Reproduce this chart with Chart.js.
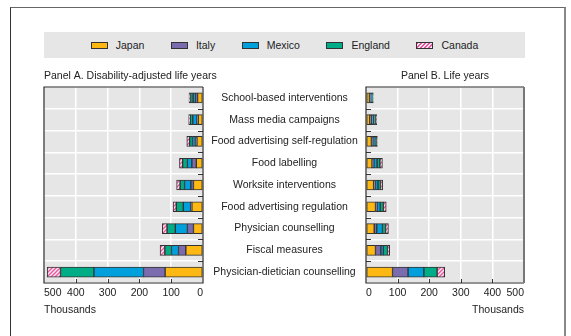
<!DOCTYPE html>
<html>
<head>
<meta charset="utf-8">
<script src="https://cdn.jsdelivr.net/npm/chart.js@4.4.0/dist/chart.umd.min.js"></script>
<style>
  html, body { margin: 0; padding: 0; background: #fff; }
  #page { position: relative; width: 571px; height: 336px; overflow: hidden;
          font-family: "Liberation Sans", Arial, sans-serif; }
  #frame { position: absolute; left: 10px; top: 7px; width: 553px; height: 360px;
           border-left: 1.5px solid #333; border-top: 1px solid #666; border-right: 2px solid #888; }
  #legend { position: absolute; left: 44px; top: 32px; width: 481px; height: 26px;
            background: #e6e6e7; display: flex; justify-content: center; align-items: center;
            gap: 26.5px; font-size: 10.5px; color: #222; }
  .item { display: flex; align-items: center; }
  .sw { width: 15px; height: 5px; border: 1px solid #333; margin-right: 8px; }
  canvas { position: absolute; }
</style>
</head>
<body>
<div id="page">
  <div id="frame"></div>
  <div id="legend"></div>
  <canvas id="panelA" width="366" height="276" style="left:0;top:60px;width:366px;height:276px"></canvas>
  <canvas id="panelB" width="271" height="276" style="left:300px;top:60px;width:271px;height:276px"></canvas>
</div>
<script>
// Interventions, top to bottom
const categories = [
  'School-based interventions',
  'Mass media campaigns',
  'Food advertising self-regulation',
  'Food labelling',
  'Worksite interventions',
  'Food advertising regulation',
  'Physician counselling',
  'Fiscal measures',
  'Physician-dietician counselling'
];
const countries = ['Japan', 'Italy', 'Mexico', 'England', 'Canada'];

// Panel A: disability-adjusted life years averted (thousands)
const dalyJapan   = [17, 15, 19, 21, 30, 35, 30, 54, 119];
const dalyItaly   = [ 7,  4,  5, 14,  8,  4, 19, 23,  68];
const dalyMexico  = [ 7, 13,  9, 14, 20, 23, 38, 22, 156];
const dalyEngland = [ 8,  8,  9, 15, 14, 22, 26, 21, 105];
const dalyCanada  = [ 5,  5,  9, 10, 11, 10, 15, 15,  42];

// Panel B: life years gained (thousands)
const lifeJapan   = [11, 12, 17, 19, 24, 30, 26, 30, 84];
const lifeItaly   = [ 5,  6,  5,  6,  6,  5,  8, 17, 49];
const lifeMexico  = [ 3,  6,  7, 10,  8, 10, 18,  8, 50];
const lifeEngland = [ 3,  6,  5,  9,  8, 10, 10, 13, 42];
const lifeCanada  = [ 1,  4,  2,  8,  7,  9,  9,  7, 24];

const axisTicks = [0, 100, 200, 300, 400, 500];
const unitLabel = 'Thousands';

const FONT = { family: '"Liberation Sans", Arial, sans-serif', size: 10.5 };
const TEXT = '#222';
const colors = ['#fdb813', '#7b6cb0', '#00a0dc', '#00ad87', null];

function hatchPattern() {
  const c = document.createElement('canvas');
  c.width = 4; c.height = 4;
  const g = c.getContext('2d');
  g.fillStyle = '#fbe6f0';
  g.fillRect(0, 0, 4, 4);
  g.strokeStyle = '#e8579f';
  g.lineWidth = 1.3;
  g.beginPath();
  g.moveTo(0, 4); g.lineTo(4, 0);
  g.moveTo(-1, 1); g.lineTo(1, -1);
  g.moveTo(3, 5); g.lineTo(5, 3);
  g.stroke();
  return g.createPattern(c, 'repeat');
}
colors[4] = hatchPattern();

// HTML legend
const legend = document.getElementById('legend');
countries.forEach((name, i) => {
  const item = document.createElement('div');
  item.className = 'item';
  const sw = document.createElement('span');
  sw.className = 'sw';
  sw.style.background = i === 4
    ? 'repeating-linear-gradient(135deg, #e8579f 0 1.2px, #fbe6f0 1.2px 2.8px)'
    : colors[i];
  const t = document.createElement('span');
  t.textContent = name;
  item.appendChild(sw); item.appendChild(t);
  legend.appendChild(item);
});

function makeDatasets(series) {
  return series.map((data, i) => ({
    label: countries[i],
    data: data,
    backgroundColor: colors[i],
    borderColor: '#333',
    borderWidth: 1,
    borderSkipped: false,
    barThickness: 10
  }));
}

// Grey plot panel, outline, inward tick marks and (for the reversed panel) the unit label
const panelFrame = {
  id: 'panelFrame',
  beforeDraw(chart) {
    const { ctx, chartArea: a } = chart;
    ctx.save();
    ctx.fillStyle = '#e6e6e7';
    ctx.fillRect(a.left, a.top, a.right - a.left, a.bottom - a.top);
    ctx.restore();
  },
  afterDraw(chart, args, opts) {
    const { ctx, chartArea: a, scales } = chart;
    const xs = scales.x, ys = scales.y;
    ctx.save();
    ctx.strokeStyle = '#333';
    ctx.lineWidth = 1;
    // inward ticks on value axis
    ctx.beginPath();
    xs.ticks.forEach(t => {
      if (t.value === xs.min || t.value === xs.max) return;
      const x = Math.round(xs.getPixelForValue(t.value)) + 0.5;
      ctx.moveTo(x, a.bottom); ctx.lineTo(x, a.bottom - 4);
    });
    // inward ticks between categories
    const edge = opts.side === 'right' ? a.right : a.left;
    const dir = opts.side === 'right' ? -1 : 1;
    for (let i = 1; i < categories.length; i++) {
      const y = Math.round((ys.getPixelForValue(i - 1) + ys.getPixelForValue(i)) / 2) + 0.5;
      ctx.moveTo(edge, y); ctx.lineTo(edge + dir * 5, y);
    }
    ctx.stroke();
    // outline
    ctx.lineWidth = 1.2;
    ctx.strokeStyle = '#2a2a2a';
    ctx.beginPath();
    ctx.moveTo(a.right, a.top); ctx.lineTo(a.left, a.top);
    ctx.lineTo(a.left, a.bottom); ctx.lineTo(a.right, a.bottom);
    if (opts.side === 'right') ctx.lineTo(a.right, a.top);
    ctx.stroke();
    if (opts.side !== 'right') {
      ctx.strokeStyle = '#777';
      ctx.lineWidth = 2;
      ctx.beginPath();
      ctx.moveTo(a.right, a.top); ctx.lineTo(a.right, a.bottom);
      ctx.stroke();
    }
    if (opts.unit) {
      ctx.fillStyle = TEXT;
      ctx.font = FONT.size + 'px ' + FONT.family;
      ctx.textAlign = 'left';
      ctx.textBaseline = 'middle';
      ctx.fillText(opts.unit, a.left, xs.bottom - FONT.size * 1.2 / 2);
    }
    ctx.restore();
  }
};

// width of the widest category label, to centre labels between panels
const meas = document.createElement('canvas').getContext('2d');
meas.font = FONT.size + 'px ' + FONT.family;
const widest = Math.max(...categories.map(c => meas.measureText(c).width));
const LABEL_BAND = 163;

function valueAxis(reverse, showTitle) {
  return {
    stacked: true,
    reverse: reverse,
    min: axisTicks[0],
    max: axisTicks[axisTicks.length - 1],
    afterBuildTicks(s) { s.ticks = axisTicks.map(v => ({ value: v })); },
    ticks: { color: TEXT, font: FONT, padding: 4, align: 'inner', maxRotation: 0 },
    grid: { color: '#ffffff', lineWidth: 1.5, drawTicks: false },
    border: { display: false },
    title: { display: showTitle, text: unitLabel, align: 'end', color: TEXT, font: FONT, padding: 0 },
    afterFit(s) { s.height = 33; }
  };
}

new Chart(document.getElementById('panelA'), {
  type: 'bar',
  data: {
    labels: categories,
    datasets: makeDatasets([dalyJapan, dalyItaly, dalyMexico, dalyEngland, dalyCanada])
  },
  options: {
    indexAxis: 'y',
    responsive: false,
    animation: false,
    layout: { padding: { left: 44, right: 0, top: 0, bottom: 20 } },
    plugins: {
      legend: { display: false },
      tooltip: { enabled: false },
      title: {
        display: true, text: 'Panel A. Disability-adjusted life years', align: 'start',
        color: TEXT, font: { ...FONT, weight: 'normal' }, padding: { top: 9.7, bottom: 4.7 }
      },
      panelFrame: { side: 'right', unit: unitLabel }
    },
    scales: {
      x: valueAxis(true, false),
      y: {
        stacked: true,
        position: 'right',
        ticks: { color: TEXT, font: FONT, crossAlign: 'center', padding: (LABEL_BAND - widest) / 2 },
        grid: { offset: true, color: '#ffffff', lineWidth: 1.5, drawTicks: false },
        border: { display: false },
        afterFit(s) { s.width = LABEL_BAND; }
      }
    }
  },
  plugins: [panelFrame]
});

new Chart(document.getElementById('panelB'), {
  type: 'bar',
  data: {
    labels: categories,
    datasets: makeDatasets([lifeJapan, lifeItaly, lifeMexico, lifeEngland, lifeCanada])
  },
  options: {
    indexAxis: 'y',
    responsive: false,
    animation: false,
    layout: { padding: { left: 66, right: 47, top: 0, bottom: 20 } },
    plugins: {
      legend: { display: false },
      tooltip: { enabled: false },
      title: {
        display: true, text: 'Panel B. Life years', align: 'center',
        color: TEXT, font: { ...FONT, weight: 'normal' }, padding: { top: 9.7, bottom: 4.7 }
      },
      panelFrame: { side: 'left' }
    },
    scales: {
      x: valueAxis(false, true),
      y: {
        stacked: true,
        position: 'left',
        ticks: { display: false },
        grid: { offset: true, color: '#ffffff', lineWidth: 1.5, drawTicks: false },
        border: { display: false },
        afterFit(s) { s.width = 0; }
      }
    }
  },
  plugins: [panelFrame]
});
</script>
</body>
</html>
